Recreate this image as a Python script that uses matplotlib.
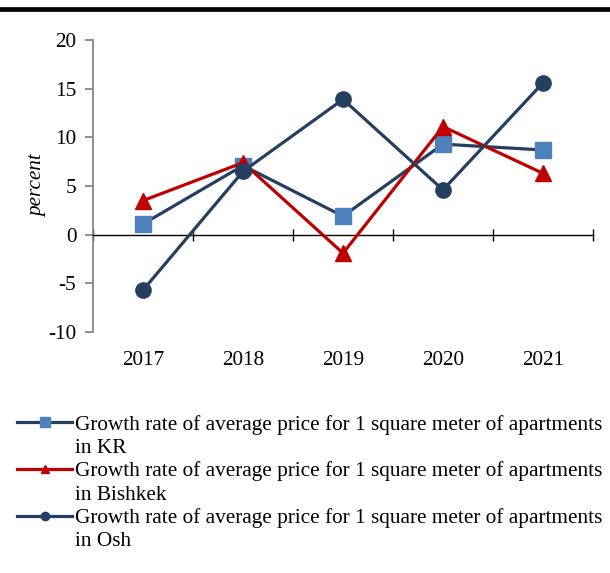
import matplotlib
matplotlib.use("Agg")
import matplotlib.pyplot as plt
from matplotlib.lines import Line2D

plt.rcParams['font.family'] = ['Liberation Serif', 'DejaVu Serif']

# data (percent)
years = ['2017', '2018', '2019', '2020', '2021']
kr = [1.1, 7.1, 1.9, 9.3, 8.7]
bishkek = [3.5, 7.4, -1.9, 11.1, 6.3]
osh = [-5.7, 6.5, 13.9, 4.6, 15.6]

navy = '#243f60'
blue = '#4f81bd'
red = '#c00000'
fs = 15.3

fig = plt.figure(figsize=(6.1, 5.73), dpi=100)
ax = fig.add_axes([93 / 610, 1 - 332 / 573, 500 / 610, 292 / 573])

x = list(range(len(years)))
ax.plot(x, kr, color=navy, lw=2.3, marker='s', ms=12, mfc=blue, mec=blue, zorder=3)
ax.plot(x, bishkek, color=red, lw=2.3, marker='^', ms=11, mfc=red, mec=red, zorder=3)
ax.plot(x, osh, color=navy, lw=2.3, marker='o', ms=11, mfc=navy, mec=navy, zorder=3)

ax.set_xlim(-0.5, 4.5)
ax.set_ylim(-10, 20)
ax.set_yticks([-10, -5, 0, 5, 10, 15, 20])
ax.set_yticklabels(['-10', '-5', '0', '5', '10', '15', '20'])

for s in ['top', 'right']:
    ax.spines[s].set_visible(False)
ax.spines['left'].set_color('#868686')
ax.spines['left'].set_linewidth(1.3)
ax.spines['bottom'].set_position(('data', 0))
ax.spines['bottom'].set_linewidth(1.0)
ax.tick_params(axis='y', direction='out', length=6, color='#868686', width=1.3,
               labelsize=fs, pad=6)
ax.set_xticks([-0.5, 0.5, 1.5, 2.5, 3.5, 4.5])
ax.tick_params(axis='x', direction='inout', length=8, width=1.0, labelbottom=False)

sec = ax.secondary_xaxis(0)
sec.set_xticks(x)
sec.set_xticklabels(years)
sec.spines['bottom'].set_visible(False)
sec.tick_params(length=0, labelsize=fs, pad=14)

ax.set_ylabel('percent', fontsize=fs, style='italic', labelpad=1)

# top rule
fig.add_artist(Line2D([0, 1], [1 - 9 / 573, 1 - 9 / 573], color='black', lw=3.4,
                      transform=fig.transFigure))

labels = [
    'Growth rate of average price for 1 square meter of apartments', 'in KR',
    'Growth rate of average price for 1 square meter of apartments', 'in Bishkek',
    'Growth rate of average price for 1 square meter of apartments', 'in Osh',
]
blank = Line2D([], [], color='none')
handles = [
    Line2D([], [], color=navy, lw=2.3, marker='s', ms=7, mfc=blue, mec=blue), blank,
    Line2D([], [], color=red, lw=2.3, marker='^', ms=6, mfc=red, mec=red), blank,
    Line2D([], [], color=navy, lw=2.3, marker='o', ms=6, mfc=navy, mec=navy), blank,
]
fig.legend(handles, labels, loc='upper left', bbox_to_anchor=(17 / 610, 1 - 415 / 573),
           frameon=False, fontsize=fs, handlelength=2.59, handletextpad=0.14,
           labelspacing=0.16, borderpad=0, borderaxespad=0)

fig.savefig('out.png', dpi=100)
